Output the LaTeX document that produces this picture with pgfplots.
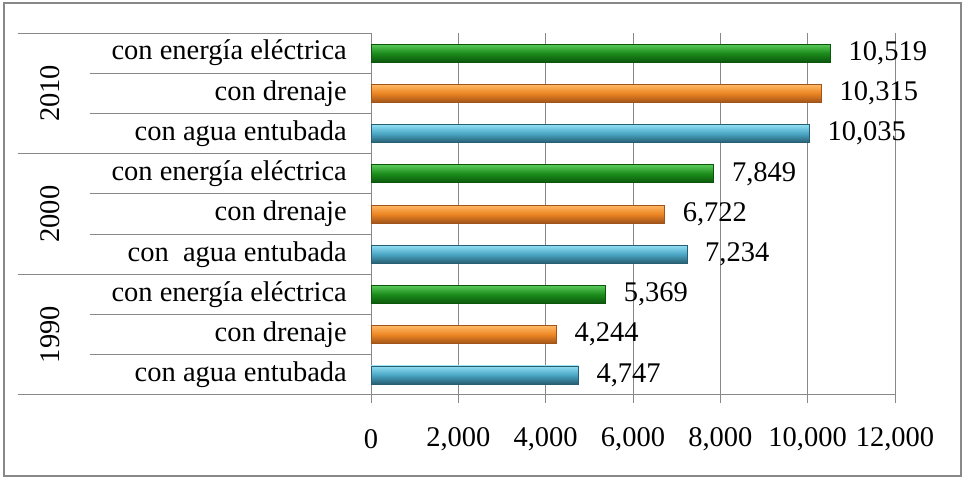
\documentclass[border=0pt]{standalone}
\usepackage{pgfplots}
\pgfplotsset{compat=1.18}
\usepackage{fontspec}
\setmainfont{Liberation Serif}
\definecolor{gridgray}{HTML}{888888}
\definecolor{gtop}{HTML}{5ACB5A}
\definecolor{gmid}{HTML}{1B8C1B}
\definecolor{gbot}{HTML}{0C560C}
\definecolor{otop}{HTML}{FFBA66}
\definecolor{omid}{HTML}{EC8522}
\definecolor{obot}{HTML}{A0541A}
\definecolor{btop}{HTML}{92DFF4}
\definecolor{bmid}{HTML}{4AA6C4}
\definecolor{bbot}{HTML}{285E72}
\pgfplotsset{
  bluebar/.style={draw=bbot, line width=0.6bp, top color=btop, bottom color=bbot, middle color=bmid},
  orangebar/.style={draw=obot, line width=0.6bp, top color=otop, bottom color=obot, middle color=omid},
  greenbar/.style={draw=gbot, line width=0.6bp, top color=gtop, bottom color=gbot, middle color=gmid},
}
\begin{document}
\begin{tikzpicture}[font=\fontsize{28.5bp}{33bp}\selectfont]
\path[use as bounding box] (0,0) rectangle (964bp,479bp);
\draw[gridgray, line width=1.5bp] (4bp,3bp) rectangle (961bp,476bp);
\begin{axis}[
  at={(371bp,84bp)}, anchor=south west,
  scale only axis, width=524bp, height=362bp,
  xbar, bar width=18bp, bar shift=0pt,
  xmin=0, xmax=12000, ymin=-0.5, ymax=8.5,
  xtick={0,2000,...,12000},
  scaled x ticks=false,
  /pgf/number format/1000 sep={,},
  /pgf/number format/assume math mode=true,
  ytick={0,...,8},
  yticklabels={con agua entubada, con drenaje, con energía eléctrica,
               con\ \ agua entubada, con drenaje, con energía eléctrica,
               con agua entubada\ , con drenaje, con energía eléctrica},
  axis x line*=bottom, axis y line*=left,
  axis line style={gridgray, line width=1bp},
  tick align=outside, major tick length=8bp,
  xtick style={gridgray, line width=1bp},
  ytick style={draw=none},
  xmajorgrids, grid style={gridgray, line width=1bp},
  yticklabel style={anchor=east, inner sep=0pt, xshift=-16bp},
  xticklabel style={anchor=center, inner sep=0pt, yshift=-36bp},
  nodes near coords,
  nodes near coords style={anchor=west, inner sep=0pt, xshift=18bp, black},
  clip=false,
]
% 1990
\addplot[bluebar] coordinates {(4747,0)};
\addplot[orangebar] coordinates {(4244,1)};
\addplot[greenbar] coordinates {(5369,2)};
% 2000
\addplot[bluebar] coordinates {(7234,3)};
\addplot[orangebar] coordinates {(6722,4)};
\addplot[greenbar] coordinates {(7849,5)};
% 2010
\addplot[bluebar] coordinates {(10035,6)};
\addplot[orangebar] coordinates {(10315,7)};
\addplot[greenbar] coordinates {(10519,8)};
\draw[gridgray, line width=1bp] (axis cs:0,0.5) -- (axis cs:-6435,0.5);
\draw[gridgray, line width=1bp] (axis cs:0,1.5) -- (axis cs:-6435,1.5);
\draw[gridgray, line width=1bp] (axis cs:0,3.5) -- (axis cs:-6435,3.5);
\draw[gridgray, line width=1bp] (axis cs:0,4.5) -- (axis cs:-6435,4.5);
\draw[gridgray, line width=1bp] (axis cs:0,6.5) -- (axis cs:-6435,6.5);
\draw[gridgray, line width=1bp] (axis cs:0,7.5) -- (axis cs:-6435,7.5);
\draw[gridgray, line width=1bp] (axis cs:0,-0.5) -- (axis cs:-8084,-0.5);
\draw[gridgray, line width=1bp] (axis cs:0,2.5) -- (axis cs:-8084,2.5);
\draw[gridgray, line width=1bp] (axis cs:0,5.5) -- (axis cs:-8084,5.5);
\draw[gridgray, line width=1bp] (axis cs:0,8.5) -- (axis cs:-8084,8.5);
\node[rotate=90] at (axis cs:-7351,1) {1990};
\node[rotate=90] at (axis cs:-7351,4) {2000};
\node[rotate=90] at (axis cs:-7351,7) {2010};
\end{axis}
\end{tikzpicture}
\end{document}
